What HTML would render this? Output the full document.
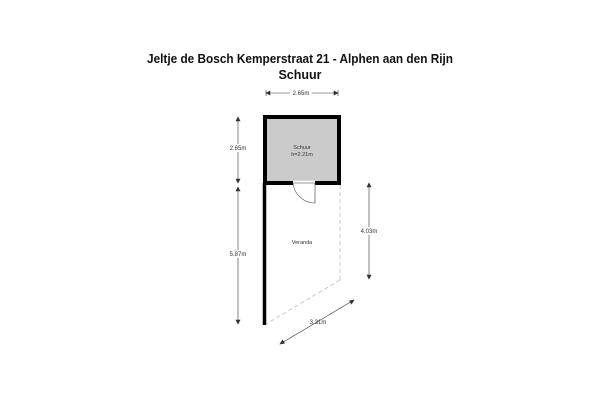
<!DOCTYPE html>
<html><head><meta charset="utf-8"><style>
html,body{margin:0;padding:0;background:#fff;}
svg{display:block;}
</style></head><body>
<svg width="600" height="400" viewBox="0 0 600 400" xmlns="http://www.w3.org/2000/svg" font-family="Liberation Sans, sans-serif">
<rect width="600" height="400" fill="#fff"/>
<text x="300" y="63" text-anchor="middle" font-size="12.5" font-weight="bold" fill="#111" textLength="306" lengthAdjust="spacingAndGlyphs">Jeltje de Bosch Kemperstraat 21 - Alphen aan den Rijn</text>
<text x="300" y="79" text-anchor="middle" font-size="12.5" font-weight="bold" fill="#111">Schuur</text>
<!-- shed -->
<rect x="265" y="117" width="74" height="66" fill="#cbcbcb" stroke="#000" stroke-width="4"/>
<!-- door opening -->
<line x1="293" y1="183" x2="315" y2="183" stroke="#fff" stroke-width="4.5"/>
<line x1="293" y1="183" x2="315" y2="183" stroke="#999" stroke-width="1"/>
<path d="M293 183 A22 22 0 0 0 315 203" fill="none" stroke="#666" stroke-width="0.7"/>
<line x1="315" y1="183" x2="315" y2="203" stroke="#666" stroke-width="0.8"/>
<!-- veranda wall -->
<line x1="264.5" y1="183" x2="264.5" y2="325" stroke="#000" stroke-width="3.5"/>
<line x1="340" y1="185" x2="340" y2="280" stroke="#bbb" stroke-width="0.8" stroke-dasharray="4,3"/>
<line x1="340" y1="280" x2="266" y2="324" stroke="#bbb" stroke-width="0.8" stroke-dasharray="4,3"/>
<text x="302" y="149" text-anchor="middle" font-size="5.5" fill="#333">Schuur</text>
<text x="302" y="156" text-anchor="middle" font-size="5.5" fill="#333">h=2.21m</text>
<text x="302" y="244" text-anchor="middle" font-size="5.5" fill="#333">Veranda</text>
<!-- dims -->
<g stroke="#333" stroke-width="0.6" fill="#333">
<line x1="266" y1="93" x2="338" y2="93"/>
<path d="M266 93 l4 -2 v4z M338 93 l-4 -2 v4z"/>
<line x1="266" y1="90" x2="266" y2="96"/><line x1="338" y1="90" x2="338" y2="96"/>
<line x1="238" y1="117" x2="238" y2="183"/>
<path d="M238 117 l-2 4 h4z M238 183 l-2 -4 h4z"/>
<line x1="238" y1="187" x2="238" y2="324"/>
<path d="M238 187 l-2 4 h4z M238 324 l-2 -4 h4z"/>
<line x1="369" y1="183" x2="369" y2="279"/>
<path d="M369 183 l-2 4 h4z M369 279 l-2 -4 h4z"/>
<line x1="280" y1="344" x2="354" y2="300"/>
<path d="M280 344 l2.5 -4 l2 3.3z M354 300 l-2.5 4 l-2 -3.3z"/>
</g>
<g font-size="6" fill="#333">
<rect x="290" y="89" width="22" height="8" fill="#fff"/>
<text x="301" y="95" text-anchor="middle">2.65m</text>
<text x="238" y="150" text-anchor="middle" fill="#333"><tspan>2.65m</tspan></text>
<text x="238" y="256" text-anchor="middle">5.87m</text>
<text x="369" y="233" text-anchor="middle">4.03m</text>
<text x="318" y="324" text-anchor="middle">3.31m</text>
</g>
<rect x="229" y="144" width="18" height="8" fill="#fff"/>
<text x="238" y="150" text-anchor="middle" font-size="6" fill="#333">2.65m</text>
<rect x="229" y="250" width="18" height="8" fill="#fff"/>
<text x="238" y="256" text-anchor="middle" font-size="6" fill="#333">5.87m</text>
<rect x="360" y="227" width="18" height="8" fill="#fff"/>
<text x="369" y="233" text-anchor="middle" font-size="6" fill="#333">4.03m</text>
</svg>
</body></html>
